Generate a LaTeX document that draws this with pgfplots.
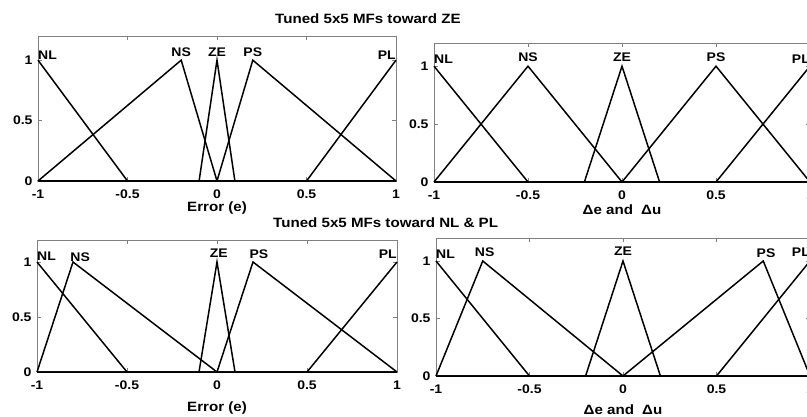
\documentclass[border=0pt]{standalone}
\usepackage{fontspec}
\setmainfont{Liberation Sans}[FakeStretch=1.12]
\usepackage{pgfplots}
\pgfplotsset{compat=1.18}
\tikzset{lab/.style={font=\fontsize{12.5}{13}\selectfont\bfseries, inner sep=0pt}}
\pgfplotsset{
  mf/.style={
    scale only axis,
    xmin=-1, xmax=1, ymin=0, ymax=1.2,
    xtick={-1,-0.5,0,0.5,1},
    xticklabels={-1,-0.5,0,0.5,1},
    ytick={0,0.5,1},
    yticklabels={0,0.5,1},
    tick align=inside,
    major tick length=4pt,
    axis line style={draw=black!50, line width=0.9pt},
    every tick/.style={black!50, line width=0.6pt},
    tick label style={font=\fontsize{12.5}{13}\selectfont\bfseries},
    xticklabel style={yshift=-5pt},
    yticklabel style={xshift=-2pt},
    label style={font=\fontsize{13.5}{14}\selectfont\bfseries},
    clip=false,
    every axis plot post/.style={black, mark=none, line width=1.5pt, line join=miter},
  }
}
\begin{document}
\begin{tikzpicture}
\useasboundingbox (0pt,0pt) rectangle (807pt,-417pt);
\begin{scope}
\clip (0pt,0pt) rectangle (807pt,-417pt);
% Titles
\node[anchor=base west, font=\fontsize{13.5}{14}\selectfont\bfseries, inner sep=0pt] at (275pt,-24pt) {Tuned 5x5 MFs toward ZE};
\node[anchor=base west, font=\fontsize{13.5}{14}\selectfont\bfseries, inner sep=0pt] at (273pt,-228pt) {Tuned 5x5 MFs toward NL \& PL};

% Top-left
\begin{axis}[mf, at={(38pt,-181pt)}, anchor=south west, width=358pt, height=145pt, xlabel={Error (e)}, xlabel style={yshift=4pt}]
\addplot coordinates {(-1,1) (-0.5,0) (1,0)};
\addplot coordinates {(-1,0) (-0.2,1) (0,0) (1,0)};
\addplot coordinates {(-1,0) (-0.1,0) (0,1) (0.1,0) (1,0)};
\addplot coordinates {(-1,0) (0,0) (0.2,1) (1,0)};
\addplot coordinates {(-1,0) (0.5,0) (1,1)};
\node[lab, anchor=south west] at (axis cs:-1,1.0) {NL};
\node[lab, anchor=south] at (axis cs:-0.2,1.025) {NS};
\node[lab, anchor=south] at (axis cs:0,1.025) {ZE};
\node[lab, anchor=south] at (axis cs:0.2,1.025) {PS};
\node[lab, anchor=south east] at (axis cs:1,1.0) {PL};
\end{axis}

% Top-right
\begin{axis}[mf, at={(434pt,-182pt)}, anchor=south west, width=376pt, height=139pt, xlabel={Δe and\hspace{4pt} Δu}, xlabel style={yshift=2pt}]
\addplot coordinates {(-1,1) (-0.5,0) (1,0)};
\addplot coordinates {(-1,0) (-0.5,1) (0,0) (1,0)};
\addplot coordinates {(-1,0) (-0.2,0) (0,1) (0.2,0) (1,0)};
\addplot coordinates {(-1,0) (0,0) (0.5,1) (1,0)};
\addplot coordinates {(-1,0) (0.5,0) (1,1)};
\node[lab, anchor=south west] at (axis cs:-1,1.02) {NL};
\node[lab, anchor=south] at (axis cs:-0.5,1.035) {NS};
\node[lab, anchor=south] at (axis cs:0,1.035) {ZE};
\node[lab, anchor=south] at (axis cs:0.5,1.035) {PS};
\node[lab, anchor=south east] at (axis cs:1,1.02) {PL};
\end{axis}

% Bottom-left
\begin{axis}[mf, at={(37pt,-372pt)}, anchor=south west, width=360pt, height=132pt, xlabel={Error (e)}, xlabel style={yshift=-5pt}]
\addplot coordinates {(-1,1) (-0.5,0) (1,0)};
\addplot coordinates {(-1,0) (-0.8,1) (0,0) (1,0)};
\addplot coordinates {(-1,0) (-0.1,0) (0,1) (0.1,0) (1,0)};
\addplot coordinates {(-1,0) (0,0) (0.2,1) (1,0)};
\addplot coordinates {(-1,0) (0.5,0) (1,1)};
\node[lab, anchor=south west] at (axis cs:-1,1.01) {NL};
\node[lab, anchor=south] at (axis cs:-0.76,1.0) {NS};
\node[lab, anchor=south] at (axis cs:0.01,1.04) {ZE};
\node[lab, anchor=south] at (axis cs:0.233,1.03) {PS};
\node[lab, anchor=south east] at (axis cs:1,1.03) {PL};
\end{axis}

% Bottom-right
\begin{axis}[mf, at={(436pt,-376pt)}, anchor=south west, width=374pt, height=138pt, xlabel={Δe and\hspace{4pt} Δu}, xlabel style={yshift=-4pt}]
\addplot coordinates {(-1,1) (-0.5,0) (1,0)};
\addplot coordinates {(-1,0) (-0.75,1) (0,0) (1,0)};
\addplot coordinates {(-1,0) (-0.2,0) (0,1) (0.2,0) (1,0)};
\addplot coordinates {(-1,0) (0,0) (0.75,1) (1,0)};
\addplot coordinates {(-1,0) (0.5,0) (1,1)};
\node[lab, anchor=south west] at (axis cs:-1,1.02) {NL};
\node[lab, anchor=south] at (axis cs:-0.74,1.04) {NS};
\node[lab, anchor=south] at (axis cs:0,1.05) {ZE};
\node[lab, anchor=south] at (axis cs:0.765,1.03) {PS};
\node[lab, anchor=south east] at (axis cs:1,1.04) {PL};
\end{axis}
\end{scope}
\end{tikzpicture}
\end{document}
